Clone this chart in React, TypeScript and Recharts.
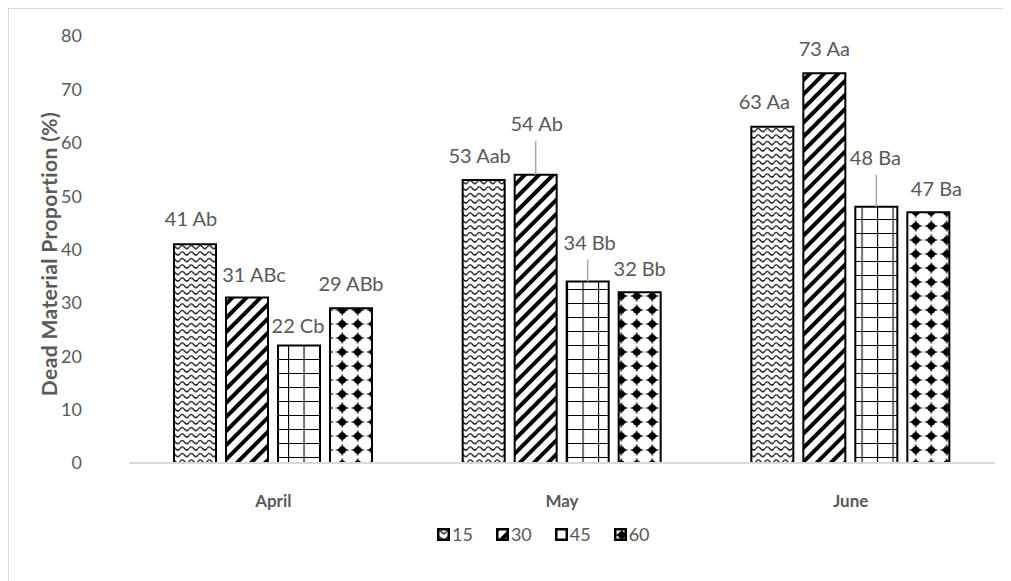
import React from "react";
import { BarChart, Bar, XAxis, YAxis, Legend, LabelList, Label } from "recharts";

const months = ["April", "May", "June"];
const depths = ["15", "30", "45", "60"];
const values15 = [41, 53, 63];
const values30 = [31, 54, 73];
const values45 = [22, 34, 48];
const values60 = [29, 32, 47];
const letters15 = ["Ab", "Aab", "Aa"];
const letters30 = ["ABc", "Ab", "Aa"];
const letters45 = ["Cb", "Bb", "Ba"];
const letters60 = ["ABb", "Bb", "Ba"];
const yTicks = [0, 10, 20, 30, 40, 50, 60, 70, 80];

const letters = [letters15, letters30, letters45, letters60];

// label placement: [dx, distance above bar top]; big lifts get a leader line
const labelPos = [
  [[-4, 26], [-4, 25], [-8, 26]],
  [[7, 24], [1, 52], [0, 25]],
  [[-1, 21], [2, 40], [-1, 50]],
  [[0, 25], [0, 24], [8, 24]],
];

const data = months.map((m, i) => ({
  month: m,
  d15: values15[i],
  d30: values30[i],
  d45: values45[i],
  d60: values60[i],
}));

const FONT = "Lato, 'Open Sans', sans-serif";
const TEXT = "#595959";
const patternIds = ["p15", "p30", "p45", "p60"];
const keys = ["d15", "d30", "d45", "d60"];

const Patterns = () => (
  <svg width={0} height={0} style={{ position: "absolute" }}>
    <defs>
      <pattern id="p15" width={9} height={6.5} patternUnits="userSpaceOnUse">
        <rect width={9} height={6.5} fill="#fff" />
        <path d="M0 4 Q2.25 0.8 4.5 4 T9 4" fill="none" stroke="#000" strokeWidth={1.3} />
      </pattern>
      <pattern id="p30" width={10} height={10} patternUnits="userSpaceOnUse" patternTransform="rotate(45)">
        <rect width={10} height={10} fill="#fff" />
        <rect width={4} height={10} fill="#000" />
      </pattern>
      <pattern id="p45" width={15.5} height={14} patternUnits="userSpaceOnUse">
        <rect width={15.5} height={14} fill="#fff" />
        <path d="M0 0 H15.5 M0 0 V14" stroke="#000" strokeWidth={2.2} />
      </pattern>
      <pattern id="p60" width={15.5} height={14} patternUnits="userSpaceOnUse">
        <rect width={15.5} height={14} fill="#fff" />
        <path
          d="M7.75 0.5 Q8.6 6.1 15 7 Q8.6 7.9 7.75 13.5 Q6.9 7.9 0.5 7 Q6.9 6.1 7.75 0.5 Z"
          fill="#000"
        />
        <circle cx={7.75} cy={7} r={3.6} fill="#000" />
      </pattern>
    </defs>
  </svg>
);

const makeLabel = (s: number) => (props: any) => {
  const { x, y, width, value, index } = props;
  const [dx, lift] = labelPos[s][index];
  const cx = x + width / 2;
  const ly = y - lift;
  return (
    <g>
      {lift > 35 && (
        <line x1={cx} x2={cx} y1={ly + 18} y2={y} stroke="#a6a6a6" strokeWidth={1.5} />
      )}
      <text
        x={cx + dx}
        y={ly}
        textAnchor="middle"
        dominantBaseline="central"
        fontFamily={FONT}
        fontSize={20}
        fill={TEXT}
      >
        {`${value} ${letters[s][index]}`}
      </text>
    </g>
  );
};

const MonthTick = (props: any) => {
  const { x, y, payload } = props;
  return (
    <text
      x={x}
      y={y + 29}
      textAnchor="middle"
      dominantBaseline="central"
      fontFamily={FONT}
      fontWeight="bold"
      fontSize={17}
      fill={TEXT}
    >
      {payload.value}
    </text>
  );
};

const renderLegend = () => (
  <div
    style={{
      display: "flex",
      alignItems: "center",
      height: 20,
      paddingLeft: 428,
      fontFamily: FONT,
      fontSize: 18,
      color: TEXT,
    }}
  >
    {depths.map((d, i) => (
      <span key={d} style={{ display: "flex", alignItems: "center", marginRight: 23 }}>
        <svg width={13} height={13}>
          <rect x={1.25} y={1.25} width={10.5} height={10.5} fill={`url(#${patternIds[i]})`} stroke="#000" strokeWidth={2.5} />
        </svg>
        <span style={{ marginLeft: 2 }}>{d}</span>
      </span>
    ))}
  </div>
);

export default function App() {
  return (
    <div
      style={{
        width: 1003,
        height: 580,
        border: "1px solid #d9d9d9",
        boxSizing: "border-box",
        background: "#fff",
        position: "relative",
      }}
    >
      <Patterns />
      <BarChart
        width={1001}
        height={571}
        data={data}
        margin={{ top: 27, right: 15, bottom: 57, left: 0 }}
        barSize={42}
        barGap={10}
      >
        <XAxis
          dataKey="month"
          tick={<MonthTick />}
          tickLine={false}
          axisLine={{ stroke: "#d9d9d9", strokeWidth: 2 }}
          height={40}
        />
        <YAxis
          width={120}
          domain={[0, 80]}
          ticks={yTicks}
          interval={0}
          axisLine={false}
          tickLine={false}
          tickSize={5}
          tickMargin={42}
          tick={{ fontFamily: FONT, fontSize: 18, fill: TEXT }}
        >
          <Label
            content={() => (
              <text
                x={39}
                y={245}
                transform="rotate(-90 39 245)"
                textAnchor="middle"
                dominantBaseline="central"
                fontFamily={FONT}
                fontWeight="bold"
                fontSize={21}
                letterSpacing={0.4}
                fill={TEXT}
              >
                Dead Material Proportion (%)
              </text>
            )}
          />
        </YAxis>
        <Legend
          verticalAlign="bottom"
          content={renderLegend}
          wrapperStyle={{ top: 515, left: 0, width: 1001 }}
        />
        {keys.map((k, s) => (
          <Bar
            key={k}
            dataKey={k}
            name={depths[s]}
            fill={`url(#${patternIds[s]})`}
            stroke="#000"
            strokeWidth={2}
            isAnimationActive={false}
          >
            <LabelList dataKey={k} content={makeLabel(s)} />
          </Bar>
        ))}
      </BarChart>
    </div>
  );
}
